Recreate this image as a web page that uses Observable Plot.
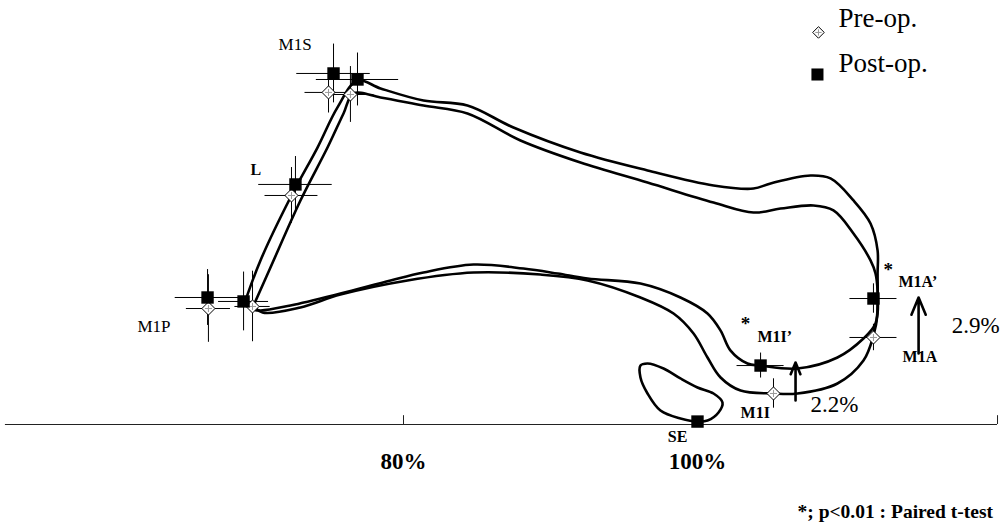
<!DOCTYPE html>
<html><head><meta charset="utf-8">
<script src="https://cdn.jsdelivr.net/npm/d3@7"></script>
<script src="https://cdn.jsdelivr.net/npm/@observablehq/plot@0.6"></script>
<style>html,body{margin:0;padding:0;background:#fff}</style>
</head><body><div id="chart"></div>
<script>
// ---- data (x: % of length, y: %) ----
const postLoop = [
[69.25,8.44],[70.27,11.16],[72.31,15.44],[74.15,18.84],[75.51,21.57],[76.87,23.40],
[78.44,22.86],[81.36,22.04],[84.35,21.70],[87.48,20.20],[92.04,18.50],[96.60,17.28],
[101.09,16.26],[103.81,16.05],[104.97,16.40],[107.69,16.94],[109.05,16.74],[110.61,15.24],
[111.77,13.67],[112.25,11.84],[112.25,10.27],[112.25,8.57],[112.11,6.87],[111.29,5.85],
[109.52,4.56],[106.80,3.81],[104.29,4.01],[103.40,4.15],[102.25,5.03],[101.57,6.39],
[100.68,7.55],[98.84,8.64],[96.12,9.59],[92.52,9.93],[90.48,10.27],[88.16,10.61],
[84.76,10.88],[81.36,10.34],[79.12,9.80],[75.71,8.91],[72.31,8.10],[70.27,7.76],
[69.59,7.89],[69.25,8.44]];
const preLoop = [
[69.80,8.10],[70.95,10.68],[72.99,15.24],[74.83,18.84],[75.92,21.16],[76.60,22.52],
[78.44,22.25],[81.36,21.70],[84.35,21.16],[87.96,19.32],[92.04,17.82],[96.60,16.46],
[101.09,15.10],[103.81,14.42],[105.65,14.69],[107.89,14.90],[109.25,14.56],[110.61,12.99],
[111.77,11.16],[112.11,10.27],[112.25,9.12],[112.25,7.55],[111.97,6.05],[111.29,4.35],
[109.52,2.79],[106.80,2.11],[105.17,2.11],[102.93,2.31],[101.57,3.20],[100.68,4.56],
[99.73,6.19],[98.37,7.55],[96.12,8.64],[92.52,9.80],[89.32,10.20],[84.76,10.34],
[80.27,9.80],[75.71,8.84],[72.99,7.96],[70.41,7.62],[69.80,8.10]];
const seLoop = [
[100.07,0.20],[98.84,0.41],[97.48,0.95],[96.60,2.11],[96.12,3.20],[96.12,4.01],[96.60,4.15],
[97.69,3.81],[98.84,3.13],[100.00,2.52],[101.09,2.11],[101.70,1.50],[101.43,0.82],[100.68,0.27]];

// landmarks: mean position and SD (error bars)
const postMarks = [
  {name:"M1S(a)", x:75.24, y:23.88, ex:2.5, ey:2.0},
  {name:"M1S",    x:76.87, y:23.47, ex:2.8, ey:1.8},
  {name:"L",      x:72.65, y:16.33, ex:2.5, ey:1.9},
  {name:"M1P(a)", x:66.67, y:8.64,  ex:2.2, ey:1.9},
  {name:"M1P",    x:69.12, y:8.37,  ex:1.7, ey:2.0},
  {name:"M1A'",   x:111.97,y:8.57,  ex:1.6, ey:1.0},
  {name:"M1I'",   x:104.29,y:4.01,  ex:1.6, ey:0.85},
  {name:"SE",     x:100.00,y:0.20,  ex:0,   ey:0}
];
const preMarks = [
  {name:"M1S(a)", x:74.90, y:22.59, ex:1.6, ey:1.4},
  {name:"M1S",    x:76.39, y:22.45, ex:1.6, ey:1.9},
  {name:"L",      x:72.38, y:15.58, ex:1.8, ey:1.9},
  {name:"M1P(a)", x:66.73, y:7.89,  ex:1.5, ey:2.3},
  {name:"M1P",    x:69.73, y:8.03,  ex:1.2, ey:2.4},
  {name:"M1A",    x:111.97,y:5.92,  ex:1.6, ey:0.9},
  {name:"M1I",    x:105.17,y:2.11,  ex:1.4, ey:1.0}
];
// vertical shifts (pre -> post)
const shifts = [
  {label:"2.9%", x:115.04, from:4.83, to:8.64, lx:117.3, ly:6.2},
  {label:"2.2%", x:106.67, from:1.63, to:4.22, lx:107.69, ly:0.82}
];
const xTicks = [80, 100];
const axisExtent = [52.92, 120.41];

const regularLabels = [
  {text:"M1S", x:71.50, y:25.45},
  {text:"M1P", x:61.90, y:6.26}
];
const boldLabels = [
  {text:"L",    x:69.59,  y:16.94},
  {text:"M1A’", x:113.67, y:9.32},
  {text:"M1A",  x:113.95, y:4.22},
  {text:"M1I’", x:104.08, y:5.58},
  {text:"M1I",  x:102.93, y:0.41}
];
const stars = [{x:112.98, y:10.07}, {x:103.27, y:6.46}];
const seLabel = [{text:"SE", x:98.64, y:-1.22}];
const legendItems = [
  {text:"Pre-op.",  sx:108.23, sy:26.67, tx:109.59, ty:27.03},
  {text:"Post-op.", sx:108.16, sy:23.81, tx:109.59, ty:24.01}
];
const footnote = [{text:"*; p<0.01 : Paired t-test", x:120.10, y:-6.33}];

// ---- layout ----
const W = 1005, H = 526, mB = 102, pxPerPct = 14.7, x80px = 403;
const serif = "Liberation Serif, Times New Roman, serif";

const chart = Plot.plot({
  width: W, height: H,
  marginTop: 0, marginBottom: mB, marginLeft: 0, marginRight: 0,
  style: {background: "white", fontFamily: serif, color: "black"},
  x: {domain: [80 - x80px/pxPerPct, 80 + (W - x80px)/pxPerPct], range: [0, W]},
  y: {domain: [0, (H - mB)/pxPerPct], range: [H - mB, 0], axis: null},
  marks: [
    // baseline axis
    Plot.ruleY([0], {x1: axisExtent[0], x2: axisExtent[1], stroke: "#222", strokeWidth: 1.2}),
    Plot.ruleX([xTicks[0], axisExtent[1]], {y1: 0, y2: 0.6, stroke: "#222", strokeWidth: 1}),
    Plot.axisX(xTicks, {tickSize: 0, tickPadding: 28, tickFormat: d => d + "%",
      fontSize: 23, fontWeight: "bold", fontFamily: serif, label: null}),
    // error bars
    Plot.ruleY(postMarks.filter(d => d.ex), {y: "y", x1: d => d.x - d.ex, x2: d => d.x + d.ex, stroke: "black", strokeWidth: 1}),
    Plot.ruleX(postMarks.filter(d => d.ey), {x: "x", y1: d => d.y - d.ey, y2: d => d.y + d.ey, stroke: "black", strokeWidth: 1}),
    Plot.ruleY(preMarks, {y: "y", x1: d => d.x - d.ex, x2: d => d.x + d.ex, stroke: "black", strokeWidth: 1}),
    Plot.ruleX(preMarks, {x: "x", y1: d => d.y - d.ey, y2: d => d.y + d.ey, stroke: "black", strokeWidth: 1}),
    // trajectories
    Plot.line(preLoop, {x: d => d[0], y: d => d[1], curve: "catmull-rom", stroke: "black", strokeWidth: 2.6}),
    Plot.line(postLoop, {x: d => d[0], y: d => d[1], curve: "catmull-rom", stroke: "black", strokeWidth: 2.6}),
    Plot.line(seLoop, {x: d => d[0], y: d => d[1], curve: "catmull-rom-closed", stroke: "black", strokeWidth: 2.6}),
    // markers
    Plot.dot(preMarks, {x: "x", y: "y", symbol: "diamond2", r: 5.9, fill: "white", stroke: "black", strokeWidth: 1}),
    Plot.dot(preMarks, {x: "x", y: "y", symbol: "plus", r: 2.4, stroke: "#9a9a9a", strokeWidth: 1}),
    Plot.dot(postMarks, {x: "x", y: "y", symbol: "square", r: 7, fill: "black"}),
    // shift arrows
    Plot.arrow(shifts, {x1: "x", x2: "x", y1: "from", y2: "to", stroke: "black", strokeWidth: 2.6, headLength: 11, headAngle: 45}),
    Plot.text(shifts, {x: "lx", y: "ly", text: "label", textAnchor: "start", lineAnchor: "bottom", fontSize: 23, fill: "black"}),
    // labels
    Plot.text(regularLabels, {x: "x", y: "y", text: "text", textAnchor: "start", lineAnchor: "bottom", fontSize: 17, fill: "black"}),
    Plot.text(boldLabels, {x: "x", y: "y", text: "text", textAnchor: "start", lineAnchor: "bottom", fontSize: 16, fontWeight: "bold", fill: "black"}),
    Plot.text(stars, {x: "x", y: "y", text: () => "*", textAnchor: "middle", lineAnchor: "bottom", fontSize: 19, fontWeight: "bold", fill: "black"}),
    Plot.text(seLabel, {x: "x", y: "y", text: "text", textAnchor: "middle", lineAnchor: "bottom", fontSize: 16, fontWeight: "bold", fill: "black"}),
    // legend
    Plot.dot(legendItems.slice(0, 1), {x: "sx", y: "sy", symbol: "diamond2", r: 5.2, fill: "white", stroke: "black", strokeWidth: 1}),
    Plot.dot(legendItems.slice(0, 1), {x: "sx", y: "sy", symbol: "plus", r: 2.2, stroke: "#9a9a9a", strokeWidth: 1}),
    Plot.dot(legendItems.slice(1), {x: "sx", y: "sy", symbol: "square", r: 6.8, fill: "black"}),
    Plot.text(legendItems, {x: "tx", y: "ty", text: "text", textAnchor: "start", lineAnchor: "bottom", fontSize: 27, fill: "black"}),
    // footnote
    Plot.text(footnote, {x: "x", y: "y", text: "text", textAnchor: "end", lineAnchor: "bottom", fontSize: 19.5, fontWeight: "bold", fill: "black"})
  ]
});
document.getElementById("chart").appendChild(chart);
</script>
</body></html>
